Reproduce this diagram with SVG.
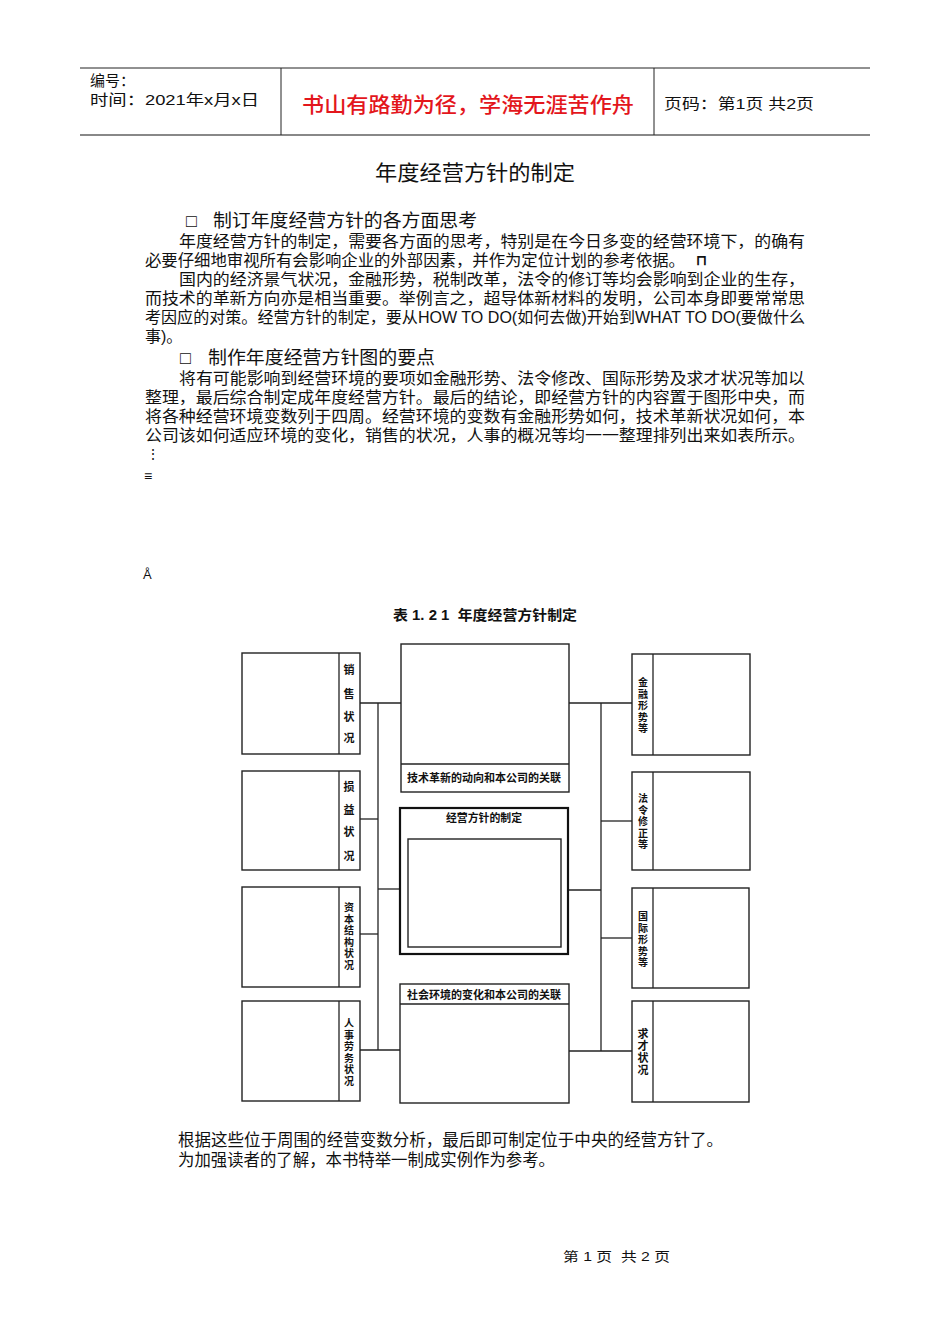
<svg xmlns="http://www.w3.org/2000/svg" width="950" height="1344" viewBox="0 0 950 1344">
<style>
text{font-family:"Liberation Sans","Noto Sans CJK SC",sans-serif;fill:#111}
.b{font-size:16px}
.h{font-size:18px}
.lb{font-size:11px;font-weight:bold;text-anchor:middle}
.sm{font-size:10px}
.box{fill:#fff;stroke:#222;stroke-width:1.4}
.ln{stroke:#222;stroke-width:1.3;fill:none}
.pre{white-space:pre}
</style>
<rect width="950" height="1344" fill="#fff"/>
<g id="header">
<line x1="80" y1="68" x2="870" y2="68" stroke="#222" stroke-width="1"/>
<line x1="80" y1="135" x2="870" y2="135" stroke="#888" stroke-width="2"/>
<line x1="281" y1="68" x2="281" y2="135" stroke="#222" stroke-width="1"/>
<line x1="654" y1="68" x2="654" y2="135" stroke="#222" stroke-width="1"/>
<text x="90" y="86" font-size="15">编号：</text>
<text x="90" y="105" font-size="15" textLength="169" lengthAdjust="spacingAndGlyphs">时间：2021年x月x日</text>
<text x="468" y="112" font-size="21" text-anchor="middle" style="fill:#e3161c;font-weight:500" textLength="332" lengthAdjust="spacingAndGlyphs">书山有路勤为径，学海无涯苦作舟</text>
<text x="664" y="109" font-size="15" textLength="150" lengthAdjust="spacingAndGlyphs">页码：第1页 共2页</text>
</g>
<g id="body">
<text x="475" y="180" font-size="21" text-anchor="middle" textLength="200" lengthAdjust="spacingAndGlyphs">年度经营方针的制定</text>
<text x="186" y="227" class="h">□</text>
<text x="213" y="227" class="h" textLength="264" lengthAdjust="spacingAndGlyphs">制订年度经营方针的各方面思考</text>
<text x="179" y="247" class="b" textLength="626" lengthAdjust="spacingAndGlyphs">年度经营方针的制定，需要各方面的思考，特别是在今日多变的经营环境下，的确有</text>
<text x="145" y="266" class="b" textLength="540" lengthAdjust="spacingAndGlyphs">必要仔细地审视所有会影响企业的外部因素，并作为定位计划的参考依据。</text>
<text x="696" y="265" font-size="14" font-weight="bold">⊓</text>
<text x="179" y="285" class="b" textLength="626" lengthAdjust="spacingAndGlyphs">国内的经济景气状况，金融形势，税制改革，法令的修订等均会影响到企业的生存，</text>
<text x="145" y="304" class="b" textLength="660" lengthAdjust="spacingAndGlyphs">而技术的革新方向亦是相当重要。举例言之，超导体新材料的发明，公司本身即要常常思</text>
<text x="145" y="323" class="b" textLength="660" lengthAdjust="spacingAndGlyphs">考因应的对策。经营方针的制定，要从HOW TO DO(如何去做)开始到WHAT TO DO(要做什么</text>
<text x="145" y="342" class="b">事)。</text>
<text x="180" y="364" class="h">□</text>
<text x="208" y="364" class="h" textLength="227" lengthAdjust="spacingAndGlyphs">制作年度经营方针图的要点</text>
<text x="179" y="384" class="b" textLength="626" lengthAdjust="spacingAndGlyphs">将有可能影响到经营环境的要项如金融形势、法令修改、国际形势及求才状况等加以</text>
<text x="145" y="403" class="b" textLength="660" lengthAdjust="spacingAndGlyphs">整理，最后综合制定成年度经营方针。最后的结论，即经营方针的内容置于图形中央，而</text>
<text x="145" y="422" class="b" textLength="660" lengthAdjust="spacingAndGlyphs">将各种经营环境变数列于四周。经营环境的变数有金融形势如何，技术革新状况如何，本</text>
<text x="145" y="441" class="b" textLength="660" lengthAdjust="spacingAndGlyphs">公司该如何适应环境的变化，销售的状况，人事的概况等均一一整理排列出来如表所示。</text>
<text x="146" y="459" font-size="14">⋮</text>
<text x="144" y="481" font-size="14">≡</text>
<text x="143" y="579" font-size="13">Å</text>
<text x="178" y="1146" font-size="16.5" textLength="545" lengthAdjust="spacingAndGlyphs">根据这些位于周围的经营变数分析，最后即可制定位于中央的经营方针了。</text>
<text x="178" y="1166" font-size="16.5" textLength="377" lengthAdjust="spacingAndGlyphs">为加强读者的了解，本书特举一制成实例作为参考。</text>
<text x="563" y="1261" font-size="13" class="pre" textLength="107" lengthAdjust="spacingAndGlyphs">第 1 页  共 2 页</text>
</g>
<text x="393" y="620" font-size="14" font-weight="bold" class="pre" textLength="184" lengthAdjust="spacingAndGlyphs">表 1. 2 1  年度经营方针制定</text>
<g id="connectors">
<line class="ln" x1="378" y1="703" x2="378" y2="1050"/>
<line class="ln" x1="360" y1="703" x2="401" y2="703"/>
<line class="ln" x1="360" y1="819" x2="378" y2="819"/>
<line class="ln" x1="378" y1="889" x2="400" y2="889"/>
<line class="ln" x1="360" y1="934" x2="378" y2="934"/>
<line class="ln" x1="360" y1="1050" x2="400" y2="1050"/>
<line class="ln" x1="601" y1="703" x2="601" y2="1051"/>
<line class="ln" x1="569" y1="703" x2="632" y2="703"/>
<line class="ln" x1="601" y1="821" x2="632" y2="821"/>
<line class="ln" x1="568" y1="890" x2="601" y2="890"/>
<line class="ln" x1="601" y1="938" x2="632" y2="938"/>
<line class="ln" x1="569" y1="1051" x2="632" y2="1051"/>
</g>
<g id="L1">
<rect class="box" x="242" y="653" width="118" height="101"/>
<line class="ln" x1="339" y1="653" x2="339" y2="754"/>
<text class="lb" x="349" y="674">销</text><text class="lb" x="349" y="698">售</text><text class="lb" x="349" y="721">状</text><text class="lb" x="349" y="742">况</text>
</g>
<g id="L2">
<rect class="box" x="242" y="771" width="118" height="99"/>
<line class="ln" x1="339" y1="771" x2="339" y2="870"/>
<text class="lb" x="349" y="791">损</text><text class="lb" x="349" y="814">益</text><text class="lb" x="349" y="836">状</text><text class="lb" x="349" y="860">况</text>
</g>
<g id="L3">
<rect class="box" x="242" y="887" width="118" height="100"/>
<line class="ln" x1="339" y1="887" x2="339" y2="987"/>
<text class="lb sm" x="349" y="911">资</text><text class="lb sm" x="349" y="922.5">本</text><text class="lb sm" x="349" y="934">结</text><text class="lb sm" x="349" y="945.5">构</text><text class="lb sm" x="349" y="957">状</text><text class="lb sm" x="349" y="968.5">况</text>
</g>
<g id="L4">
<rect class="box" x="242" y="1001" width="118" height="100"/>
<line class="ln" x1="339" y1="1001" x2="339" y2="1101"/>
<text class="lb sm" x="349" y="1027">人</text><text class="lb sm" x="349" y="1038.5">事</text><text class="lb sm" x="349" y="1050">劳</text><text class="lb sm" x="349" y="1061.5">务</text><text class="lb sm" x="349" y="1073">状</text><text class="lb sm" x="349" y="1084.5">况</text>
</g>
<g id="C1">
<rect class="box" x="401" y="644" width="168" height="148"/>
<line class="ln" x1="401" y1="764" x2="569" y2="764"/>
<text class="lb" x="484" y="782" font-size="10.5" textLength="154" lengthAdjust="spacingAndGlyphs">技术革新的动向和本公司的关联</text>
</g>
<g id="C2">
<rect x="400" y="808" width="168" height="146" fill="#fff" stroke="#111" stroke-width="2.2"/>
<rect class="box" x="408" y="839" width="153" height="108"/>
<text class="lb" x="484" y="822" textLength="76" lengthAdjust="spacingAndGlyphs">经营方针的制定</text>
</g>
<g id="C3">
<rect class="box" x="400" y="984" width="169" height="119"/>
<line class="ln" x1="400" y1="1004" x2="569" y2="1004"/>
<text class="lb" x="484" y="999" font-size="10.5" textLength="154" lengthAdjust="spacingAndGlyphs">社会环境的变化和本公司的关联</text>
</g>
<g id="R1">
<rect class="box" x="632" y="654" width="118" height="101"/>
<line class="ln" x1="653" y1="654" x2="653" y2="755"/>
<text class="lb sm" x="643" y="686">金</text><text class="lb sm" x="643" y="697.5">融</text><text class="lb sm" x="643" y="709">形</text><text class="lb sm" x="643" y="720.5">势</text><text class="lb sm" x="643" y="732">等</text>
</g>
<g id="R2">
<rect class="box" x="632" y="772" width="118" height="98"/>
<line class="ln" x1="653" y1="772" x2="653" y2="870"/>
<text class="lb sm" x="643" y="802">法</text><text class="lb sm" x="643" y="813.5">令</text><text class="lb sm" x="643" y="825">修</text><text class="lb sm" x="643" y="836.5">正</text><text class="lb sm" x="643" y="848">等</text>
</g>
<g id="R3">
<rect class="box" x="632" y="888" width="117" height="100"/>
<line class="ln" x1="653" y1="888" x2="653" y2="988"/>
<text class="lb sm" x="643" y="920">国</text><text class="lb sm" x="643" y="931.5">际</text><text class="lb sm" x="643" y="943">形</text><text class="lb sm" x="643" y="954.5">势</text><text class="lb sm" x="643" y="966">等</text>
</g>
<g id="R4">
<rect class="box" x="632" y="1001" width="117" height="101"/>
<line class="ln" x1="653" y1="1001" x2="653" y2="1102"/>
<text class="lb" x="643" y="1038">求</text><text class="lb" x="643" y="1050">才</text><text class="lb" x="643" y="1062">状</text><text class="lb" x="643" y="1074">况</text>
</g>
</svg>
